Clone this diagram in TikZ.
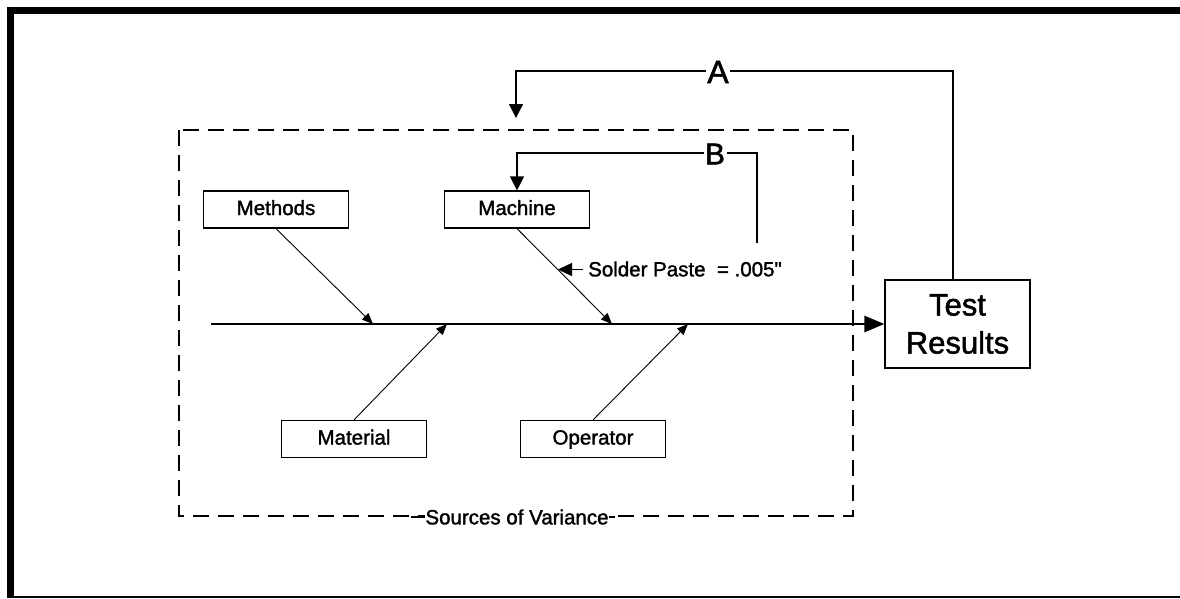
\documentclass[tikz,border=0pt]{standalone}
\usepackage{fontspec}
\setmainfont{Liberation Sans}
\newfontfamily\scanfont{Liberation Sans}[FakeBold=1.6,Ligatures=TeXOff]
\usetikzlibrary{arrows.meta,calc}
\begin{document}
\begin{tikzpicture}[x=1pt,y=-1pt,
  every node/.style={font=\scanfont\fontsize{20.5}{22}\selectfont},
  cause/.style={draw,line width=1.2pt,minimum width=145pt,minimum height=37pt,
    inner sep=0pt,text height=15pt,text depth=4pt},
  bone/.style={line width=0.9pt,-{Triangle[length=11pt,width=9pt]}},
  loop/.style={line width=1.3pt,-{Triangle[length=14pt,width=14pt]}},
  looplabel/.style={fill=white,inner sep=1.5pt,font=\scanfont\fontsize{32}{34}\selectfont}]
\useasboundingbox (0,0) rectangle (1180,598);

% page frame
\draw[line width=7pt] (1180,10.5) -- (10.5,10.5) -- (10.5,598);
\draw[line width=2pt] (10.5,597) -- (1180,597);

% sources of variance enclosure
\draw[line width=2.3pt,dash pattern=on 16pt off 9pt] (179,130) rectangle (853,516);
\node[fill=white,inner sep=0pt,minimum height=6pt] (sources) at (517,517) {Sources of Variance};
\draw[line width=2.3pt] (sources.west) -- +(-14,0);
\draw[line width=2.3pt] (sources.east) -- +(6,0);

% cause boxes
\node[cause] (methods)  at (276,209.5) {Methods};
\node[cause] (machine)  at (517,209.5) {Machine};
\node[cause] (material) at (354,439)   {Material};
\node[cause] (operator) at (593,439)   {Operator};

% effect box
\node[draw,line width=1.2pt,minimum width=145pt,minimum height=88pt,inner sep=0pt,
  align=center,font=\scanfont\fontsize{31}{38}\selectfont] (test) at (957.5,324) {Test\\Results};

% spine
\coordinate (tail) at (211,324);
\draw[line width=2.6pt,-{Triangle[length=20pt,width=16pt]}] (tail) -- (test.west);

% bones
\coordinate (j1) at (373,324);
\coordinate (j2) at (447,324);
\coordinate (j3) at (612,324);
\coordinate (j4) at (688,324);
\draw[bone] (methods.south)  -- (j1);
\draw[bone] (machine.south)  -- (j3);
\draw[bone] (material.north) -- (j2);
\draw[bone] (operator.north) -- (j4);

% solder paste note
\node[anchor=west,inner sep=0pt] (note) at (588,269) {Solder Paste\ \ = .005"};
\coordinate (noteTip) at (558,269.5);
\draw[line width=1.5pt,-{Triangle[length=14pt,width=13pt]}] ($(note.west)+(-5,0.5)$) -- (noteTip);

% feedback loop A
\coordinate (aTop) at (953,71);
\coordinate (aLeft) at (516,71);
\coordinate (aTip) at (516,118);
\draw[loop] (test.north -| aTop) -- (aTop) -- (aLeft) -- (aTip);
\node[looplabel] (A) at (718,72) {A};

% feedback loop B
\coordinate (bStart) at (757,243);
\coordinate (bTop) at (757,153);
\coordinate (bLeft) at (517,153);
\draw[loop] (bStart) -- (bTop) -- (bLeft) -- (machine.north);
\node[looplabel,font=\scanfont\fontsize{30}{32}\selectfont] (B) at (715,154) {B};
\end{tikzpicture}
\end{document}
